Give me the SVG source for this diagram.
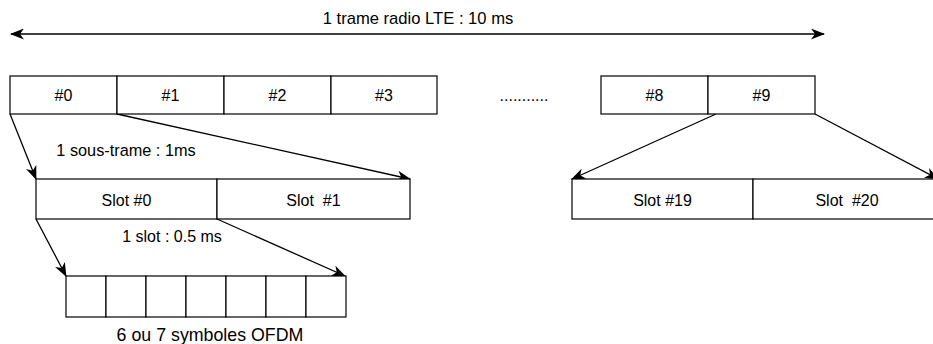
<svg xmlns="http://www.w3.org/2000/svg" width="933" height="344" viewBox="0 0 933 344">
<defs>
<style>
.box{fill:#fff;stroke:#000;stroke-width:1.2}
.t{font-family:"Liberation Sans",Arial,sans-serif;font-size:16px;fill:#000;text-anchor:middle}
.c{fill:none;stroke:#000;stroke-width:1.3}
</style>
<marker id="ah" viewBox="0 0 14 11" refX="13" refY="5.5" markerWidth="14" markerHeight="11" markerUnits="userSpaceOnUse" orient="auto-start-reverse">
<path d="M0,0 L14,5.5 L0,11 L4,5.5 Z" fill="#000"/>
</marker>
</defs>
<rect width="933" height="344" fill="#fff"/>

<g id="connectors">
<line class="c" x1="11" y1="34" x2="824" y2="34" marker-start="url(#ah)" marker-end="url(#ah)"/>
<line class="c" x1="10" y1="114" x2="36" y2="179" marker-end="url(#ah)"/>
<line class="c" x1="117" y1="114" x2="410" y2="179" marker-end="url(#ah)"/>
<line class="c" x1="36" y1="219" x2="66" y2="276" marker-end="url(#ah)"/>
<line class="c" x1="217" y1="219" x2="345" y2="276" marker-end="url(#ah)"/>
<line class="c" x1="716" y1="114" x2="572" y2="179" marker-end="url(#ah)"/>
<line class="c" x1="815" y1="114" x2="938" y2="179" marker-end="url(#ah)"/>
</g>

<g id="label-frame"><text class="t" x="418" y="24" style="font-size:16.6px">1 trame radio LTE : 10 ms</text></g>

<g id="sf0"><rect class="box" x="10" y="76" width="107" height="38"/><text class="t" x="63.5" y="101">#0</text></g>
<g id="sf1"><rect class="box" x="117" y="76" width="107" height="38"/><text class="t" x="170.5" y="101">#1</text></g>
<g id="sf2"><rect class="box" x="224" y="76" width="107" height="38"/><text class="t" x="277.5" y="101">#2</text></g>
<g id="sf3"><rect class="box" x="331" y="76" width="106" height="38"/><text class="t" x="384" y="101">#3</text></g>
<g id="dots"><text class="t" x="524" y="101">...........</text></g>
<g id="sf8"><rect class="box" x="601" y="76" width="107" height="38"/><text class="t" x="654.5" y="101">#8</text></g>
<g id="sf9"><rect class="box" x="708" y="76" width="107" height="38"/><text class="t" x="761.5" y="101">#9</text></g>

<g id="label-subframe"><text class="t" x="126" y="156" style="font-size:16.3px">1 sous-trame : 1ms</text></g>

<g id="slot0"><rect class="box" x="36" y="179" width="181" height="40"/><text class="t" x="126.5" y="206">Slot #0</text></g>
<g id="slot1"><rect class="box" x="217" y="179" width="193" height="40"/><text class="t" x="313.5" y="206" xml:space="preserve">Slot  #1</text></g>
<g id="slot19"><rect class="box" x="572" y="179" width="181" height="40"/><text class="t" x="662.5" y="206">Slot #19</text></g>
<g id="slot20"><rect class="box" x="753" y="179" width="193" height="40"/><text class="t" x="847" y="206" xml:space="preserve">Slot  #20</text></g>

<g id="label-slot"><text class="t" x="172" y="242">1 slot : 0.5 ms</text></g>

<g id="ofdm">
<rect class="box" x="66" y="276" width="40" height="41"/>
<rect class="box" x="106" y="276" width="40" height="41"/>
<rect class="box" x="146" y="276" width="40" height="41"/>
<rect class="box" x="186" y="276" width="40" height="41"/>
<rect class="box" x="226" y="276" width="40" height="41"/>
<rect class="box" x="266" y="276" width="40" height="41"/>
<rect class="box" x="306" y="276" width="40" height="41"/>
</g>
<g id="label-ofdm"><text class="t" x="210" y="341" style="font-size:17.8px">6 ou 7 symboles OFDM</text></g>
</svg>
